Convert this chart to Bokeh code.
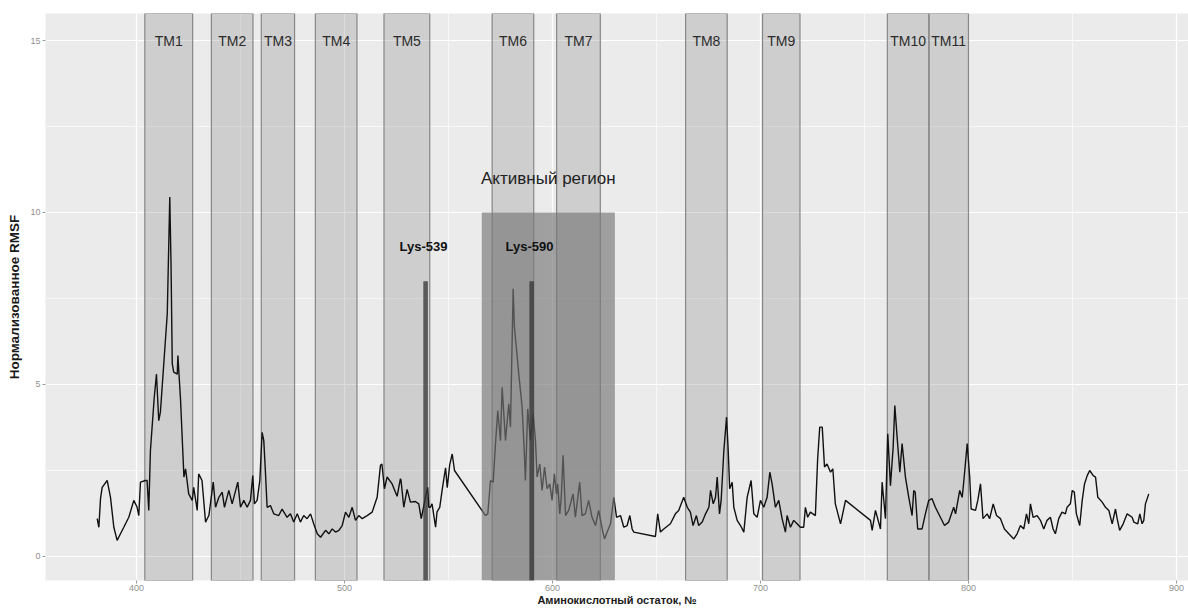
from bokeh.plotting import figure
from bokeh.models import FixedTicker, ColumnDataSource
from bokeh.core.properties import value
from bokeh.embed import file_html
from bokeh.resources import INLINE

# ---------------- data ----------------
residue = [381.1, 381.9, 382.7, 383.5, 385.9, 387.5, 389.1, 390.7, 392.3, 393.9, 396.3, 398.7,
           400.3, 401.1, 401.9, 404.3, 405.1, 405.9, 406.7, 408.5, 409.6, 410.7, 411.5, 413.0,
           414.8, 416.0, 416.6, 417.2, 417.9, 419.6, 419.9, 421.2, 422.8, 423.6, 425.1, 426.8,
           427.5, 429.2, 429.9, 431.5, 433.2, 434.8, 436.9, 438.0, 439.6, 441.2, 442.3, 444.4,
           446.0, 448.7, 450.0, 451.6, 453.2, 454.8, 455.9, 456.7, 458.0, 459.3, 460.4, 461.2,
           462.0, 462.8, 464.4, 466.0, 468.4, 470.0, 472.4, 474.0, 475.6, 477.3, 478.8, 480.4,
           482.0, 483.7, 485.2, 486.9, 488.5, 490.9, 492.5, 494.1, 495.7, 497.3, 498.9, 500.5,
           502.1, 503.7, 505.3, 506.9, 508.5, 510.9, 513.3, 515.7, 517.3, 518.0, 519.2, 520.5,
           522.9, 525.3, 526.9, 527.2, 528.5, 530.1, 531.7, 534.1, 535.7, 536.9, 538.0, 538.9,
           540.0, 540.5, 541.3, 542.1, 543.8, 544.5, 545.8, 547.0, 548.6, 549.4, 550.6, 551.8,
           552.9, 567.8, 568.9, 570.2, 571.5, 572.6, 573.7, 575.0, 575.8, 577.4, 579.0, 579.8,
           581.1, 581.7, 583.8, 585.4, 586.5, 587.0, 588.1, 589.4, 590.7, 591.8, 592.6, 593.9,
           595.0, 596.2, 597.4, 598.7, 599.8, 600.9, 601.9, 602.5, 603.5, 604.2, 605.1, 606.3,
           607.8, 609.9, 611.0, 613.1, 614.2, 615.8, 617.4, 619.0, 620.7, 622.2, 623.9, 625.0,
           626.3, 627.9, 629.5, 630.8, 632.7, 634.3, 635.9, 637.2, 638.3, 639.1, 649.5, 650.6,
           651.9, 653.5, 656.7, 659.1, 660.7, 663.1, 664.8, 666.3, 667.6, 669.2, 670.3, 672.0,
           673.6, 675.2, 676.0, 677.3, 678.4, 679.2, 680.3, 681.1, 682.4, 683.7, 684.5, 685.2,
           686.4, 687.2, 688.8, 690.4, 692.0, 693.6, 695.5, 696.8, 698.4, 700.0, 701.6, 703.2,
           704.5, 705.6, 707.2, 708.8, 710.4, 712.0, 712.8, 714.4, 716.0, 717.6, 719.2, 720.8,
           721.6, 722.7, 724.0, 726.4, 727.5, 728.5, 729.7, 730.8, 732.0, 733.7, 734.8, 736.0,
           738.5, 740.9, 752.9, 753.7, 755.3, 757.7, 758.5, 760.1, 761.2, 762.5, 763.8, 764.6,
           765.7, 767.0, 768.1, 769.7, 771.3, 772.9, 773.7, 774.4, 775.6, 777.7, 779.3, 780.9,
           782.5, 784.1, 786.5, 788.5, 790.5, 792.9, 793.8, 795.8, 797.0, 797.8, 799.4, 800.6,
           801.3, 803.4, 804.5, 805.8, 807.0, 809.0, 810.2, 811.9, 813.5, 815.4, 817.3, 819.4,
           821.8, 823.4, 825.0, 826.6, 827.9, 829.0, 829.8, 831.1, 833.0, 834.6, 836.2, 837.8,
           839.4, 840.7, 841.8, 843.4, 845.0, 846.6, 847.4, 849.0, 849.9, 850.9, 851.9, 853.5,
           854.7, 855.8, 857.1, 858.3, 860.0, 861.1, 862.2, 864.3, 865.9, 867.5, 869.1, 870.7,
           871.5, 872.7, 874.4, 876.3, 878.7, 879.5, 881.4, 882.4, 883.5, 884.3, 885.1, 886.7]
rmsf = [1.10, 0.85, 1.68, 2.01, 2.21, 1.72, 0.85, 0.47, 0.66, 0.85, 1.14, 1.63,
        1.43, 1.19, 2.16, 2.21, 2.21, 1.34, 3.08, 4.60, 5.30, 3.95, 4.20, 5.50,
        7.06, 10.45, 8.50, 5.60, 5.36, 5.30, 5.84, 4.53, 2.31, 2.55, 1.82, 1.63,
        2.01, 1.34, 2.40, 2.21, 1.00, 1.19, 2.16, 1.43, 1.72, 1.87, 1.43, 1.92,
        1.53, 2.16, 1.43, 1.63, 1.43, 1.63, 2.35, 1.53, 1.63, 2.21, 3.61, 3.37,
        2.45, 1.43, 1.48, 1.24, 1.19, 1.38, 1.14, 1.24, 1.00, 1.24, 1.00, 1.19,
        1.10, 1.24, 0.95, 0.66, 0.56, 0.76, 0.66, 0.80, 0.71, 0.76, 0.90, 1.29,
        1.14, 1.43, 1.05, 1.19, 1.10, 1.19, 1.29, 1.72, 2.65, 2.69, 1.97, 2.31,
        2.11, 1.75, 2.26, 2.21, 1.43, 1.95, 1.58, 1.60, 1.53, 1.10, 1.43, 1.72,
        2.01, 1.43, 1.43, 1.53, 0.85, 1.30, 1.43, 1.95, 2.58, 2.00, 2.67, 2.98,
        2.50, 1.19, 1.24, 2.21, 2.16, 3.28, 4.24, 3.37, 4.92, 3.37, 4.44, 3.76,
        7.78, 6.67, 5.31, 4.34, 2.98, 2.21, 4.29, 3.37, 4.15, 3.40, 2.31, 2.69,
        1.92, 2.60, 1.97, 2.11, 1.63, 2.40, 1.82, 2.11, 1.24, 1.70, 2.94, 1.19,
        1.34, 1.82, 1.14, 2.16, 1.19, 1.24, 1.63, 1.14, 0.90, 1.34, 0.80, 0.51,
        0.71, 0.95, 1.72, 1.14, 1.19, 0.85, 0.90, 1.19, 0.80, 0.71, 0.58, 1.24,
        0.71, 0.80, 0.95, 1.24, 1.34, 1.72, 1.43, 1.29, 0.90, 1.19, 0.90, 1.00,
        1.24, 1.43, 1.92, 1.53, 1.72, 2.31, 1.24, 1.63, 3.08, 4.05, 3.08, 1.97,
        2.16, 1.43, 1.05, 0.90, 0.71, 1.72, 2.21, 1.24, 1.14, 1.63, 1.43, 1.72,
        2.45, 2.11, 1.43, 1.63, 1.10, 0.71, 1.19, 0.85, 1.05, 0.95, 0.85, 0.85,
        1.43, 1.14, 1.29, 1.19, 2.84, 3.76, 3.76, 2.60, 2.69, 2.45, 2.55, 1.53,
        0.95, 1.63, 1.05, 0.76, 1.34, 0.80, 2.16, 1.10, 3.57, 2.06, 3.18, 4.39,
        3.47, 2.45, 3.28, 2.31, 1.72, 1.19, 1.92, 1.87, 0.80, 0.80, 1.24, 1.63,
        1.68, 1.43, 1.14, 0.90, 1.00, 1.43, 1.24, 1.92, 1.72, 2.21, 3.28, 2.31,
        1.38, 1.34, 1.63, 2.11, 1.10, 1.24, 1.10, 1.53, 1.19, 1.10, 0.80, 0.66,
        0.51, 0.66, 0.90, 0.80, 1.24, 0.95, 1.53, 1.14, 1.19, 1.05, 0.80, 1.05,
        1.14, 0.80, 0.66, 1.10, 1.29, 1.24, 1.43, 1.53, 1.92, 1.87, 1.24, 0.90,
        1.63, 2.11, 2.35, 2.50, 2.35, 2.31, 1.72, 1.58, 1.43, 1.34, 0.95, 1.38,
        1.10, 0.76, 0.95, 1.24, 1.14, 1.00, 0.95, 1.24, 0.95, 1.05, 1.53, 1.82]

tm_names = ["TM1", "TM2", "TM3", "TM4", "TM5", "TM6", "TM7", "TM8", "TM9", "TM10", "TM11"]
tm_start = [404, 436, 460, 486, 519, 571, 602, 664, 701, 761, 781]
tm_end = [427, 456, 476, 506, 541, 591, 623, 684, 719, 781, 800]

lys_names = ["Lys-539", "Lys-590"]
lys_pos = [539, 590]
lys_height = [8, 8]

active_name = ["Активный регион"]
active_start = [566]
active_end = [630]
active_top = [10]

x_ticks = [400, 500, 600, 700, 800, 900]
x_minor = [350, 450, 550, 650, 750, 850]
y_ticks = [0, 5, 10, 15]
y_minor = [2.5, 7.5, 12.5]

# ---------------- figure ----------------
Y_LO, Y_HI = -0.698, 15.785
X_LO, X_HI = 356.25, 905.8
FONT = "Liberation Sans"

p = figure(width=1188, height=608, x_range=(X_LO, X_HI), y_range=(Y_LO, Y_HI),
           output_backend="svg", toolbar_location=None,
           min_border_left=45, min_border_right=0, min_border_top=13, min_border_bottom=28,
           background_fill_color="#EBEBEB", border_fill_color="white")
p.outline_line_color = None

p.xaxis.ticker = FixedTicker(ticks=x_ticks, minor_ticks=x_minor)
p.yaxis.ticker = FixedTicker(ticks=y_ticks, minor_ticks=y_minor)
for ax in (p.xaxis[0], p.yaxis[0]):
    ax.axis_line_color = None
    ax.major_tick_line_color = "#9a9a9a"
    ax.major_tick_out = 3
    ax.major_tick_in = 0
    ax.minor_tick_out = 0
    ax.minor_tick_in = 0
    ax.major_label_text_font = FONT
    ax.major_label_text_font_size = "9px"
    ax.major_label_text_color = "#8f8f8f"
    ax.major_label_standoff = 2
    ax.axis_label_text_font = FONT
    ax.axis_label_text_font_style = "bold"
    ax.axis_label_text_color = "#1a1a1a"
    ax.axis_label_standoff = 2

p.xaxis.axis_label = "Аминокислотный остаток, №"
p.xaxis.axis_label_text_font_size = "11px"
p.xaxis.major_label_standoff = 1
p.xaxis.axis_label_standoff = 0
p.yaxis.axis_label = "Нормализованное RMSF"
p.yaxis.axis_label_text_font_size = "13.5px"
p.yaxis.axis_label_standoff = 5

for g in (p.xgrid[0], p.ygrid[0]):
    g.grid_line_color = "white"
    g.grid_line_width = 1.2
    g.minor_grid_line_color = "white"
    g.minor_grid_line_width = 0.6

# TM helices
tm_src = ColumnDataSource(dict(left=tm_start, right=tm_end, name=tm_names,
                               mid=[(a + b) / 2 for a, b in zip(tm_start, tm_end)],
                               ylab=[15] * len(tm_names)))
p.quad(left="left", right="right", bottom=Y_LO, top=Y_HI, source=tm_src,
       fill_color="#8c8c8c", fill_alpha=0.3, line_color="#878787", line_width=1.2)

# RMSF line
p.line(residue, rmsf, line_color="#111111", line_width=1.4)

# Active region
p.quad(left=active_start, right=active_end, bottom=[Y_LO], top=active_top,
       fill_color="#777777", fill_alpha=0.65, line_color=None)

# Lys bars
p.vbar(x=lys_pos, width=2.2, bottom=Y_LO, top=lys_height,
       fill_color="#333333", fill_alpha=0.75, line_color=None)

# Texts
p.text(x="mid", y="ylab", text="name", source=tm_src, text_align="center",
       text_baseline="middle", text_font=value(FONT), text_font_size="14px",
       text_color="#2b2b2b")
p.text(x=[(a + b) / 2 for a, b in zip(active_start, active_end)],
       y=[t + 1 for t in active_top], text=active_name, text_align="center",
       text_baseline="middle", text_font=value(FONT), text_font_size="17px",
       text_color="#222222")
p.text(x=[x - 1 for x in lys_pos], y=[h + 1 for h in lys_height], text=lys_names,
       text_align="center", text_baseline="middle", text_font=value(FONT),
       text_font_size="13px", text_font_style="bold", text_color="#111111")

open("out.html", "w").write(file_html(p, INLINE))
